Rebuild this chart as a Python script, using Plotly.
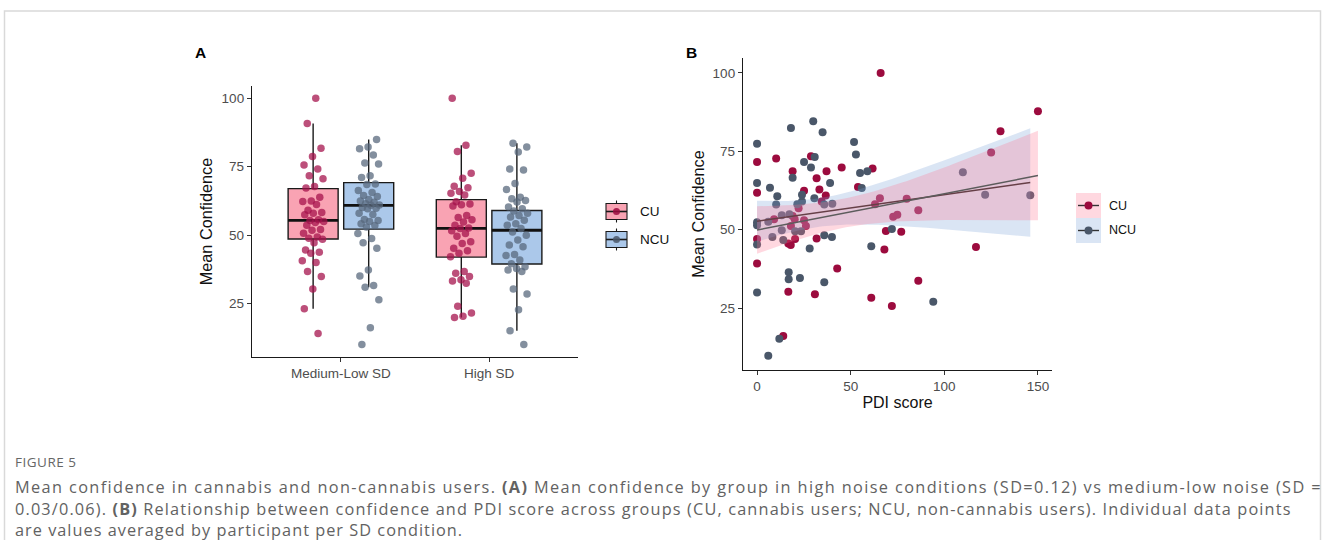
import numpy as np
import plotly.graph_objects as go

W, H = 1328, 540

# ---------------- Panel A data ----------------
categories = ["Medium-Low SD", "High SD"]
groups = ["CU", "NCU"]

cu_ml = [100, 90.8, 81.8, 78.7, 75.6, 74.2, 71.7, 70.6, 67.8, 67.2, 63.9, 62.5, 62.3, 61.2,
         59.1, 58.3, 58.0, 57.5, 55.6, 55.4, 55.0, 54.6, 53.6, 52.1, 51.8, 50.7, 49.3, 48.9,
         48.5, 47.2, 44.6, 43.8, 43.4, 40.7, 40.0, 36.7, 34.9, 30.3, 23.1, 14.1]
ncu_ml = [85.0, 82.2, 81.6, 79.3, 76.4, 76.0, 71.7, 71.1, 68.7, 68.5, 66.3, 65.6, 64.5, 64.1,
          63.0, 62.5, 62.0, 61.5, 61.0, 60.9, 60.1, 59.8, 59.7, 58.0, 57.6, 55.7, 55.4, 55.0,
          54.2, 53.5, 53.0, 50.6, 48.8, 47.2, 45.2, 37.3, 35.1, 31.6, 31.0, 26.4, 16.2, 10.1]
cu_hsd = [100, 82.9, 80.6, 72.6, 70.8, 67.9, 67.3, 66.0, 65.3, 64.7, 62.2, 61.4, 61.1, 60.7,
          57.2, 56.5, 55.6, 54.8, 53.6, 52.6, 52.4, 51.6, 50.6, 49.6, 47.6, 47.0, 45.2, 44.3,
          43.4, 42.1, 36.7, 36.1, 34.9, 33.7, 33.3, 32.4, 24.0, 21.6, 20.4, 19.9]
ncu_hsd = [83.6, 82.2, 80.4, 74.2, 73.8, 68.9, 66.7, 63.9, 63.3, 62.7, 62.1, 60.3, 59.7, 58.8,
           58.0, 57.2, 56.6, 55.5, 54.2, 53.6, 52.4, 51.2, 50.0, 48.2, 46.4, 45.8, 42.9, 42.6,
           40.9, 39.6, 38.5, 37.8, 37.3, 36.7, 30.3, 28.5, 22.8, 15.1, 10.1]

# box statistics: [Medium-Low, High]
cu_q1 = [48.6, 42.0]
cu_med = [55.4, 52.5]
cu_q3 = [67.0, 63.0]
cu_lo = [23.1, 19.9]
cu_hi = [90.8, 82.9]
ncu_q1 = [52.2, 39.5]
ncu_med = [60.9, 51.8]
ncu_q3 = [69.2, 59.0]
ncu_lo = [31.0, 15.1]
ncu_hi = [85.0, 83.6]

# ---------------- Panel B data ----------------
cu_pdi = [66, 150, 130, 125, 0, 10.2, 0, 19, 28.8, 31.8, 37.1, 33.3, 36.7, 34.5, 45.2, 53.9,
          61.7, 63, 65.6, 25.1, 0, 0, 9.1, 16.7, 18, 18.1, 19, 20.1, 20.3, 22.2, 25.1, 26.1,
          31.8, 42.8, 16.7, 30.9, 61, 14, 79.9, 86.1, 72.7, 74.9, 68.8, 77, 68, 116.9, 86.1, 72]
cu_conf = [100, 87.8, 81.4, 74.6, 71.6, 72.7, 61.8, 68.6, 73.4, 66.4, 68.6, 62.8, 60.9, 59.0,
           69.8, 63.6, 69.5, 58.1, 60.0, 62.4, 47.0, 39.2, 53.3, 45.6, 45.1, 51.2, 54.4, 53.3,
           47.0, 56.8, 53.0, 51.2, 47.2, 37.6, 30.2, 29.4, 28.3, 16.1, 59.9, 56.2, 54.1, 54.8,
           49.6, 49.3, 43.7, 44.5, 33.7, 25.7]
ncu_pdi = [0, 0, 6.9, 10.2, 10.8, 18.1, 19, 25.1, 30.8, 30, 35, 28.8, 39, 30.6, 35.9, 40.2,
           51.8, 52.8, 55, 55.9, 58.9, 24, 0, 0, 0, 0, 6, 8.2, 13.2, 13.2, 14, 17.3, 20.3, 21.5,
           24, 23.5, 28.1, 35.9, 40, 16.9, 16.9, 22.9, 35.9, 61, 11.9, 6, 109.9, 121.8, 145.9,
           72, 94.1]
ncu_conf = [77.4, 64.9, 63.4, 58.0, 60.7, 82.4, 66.6, 71.6, 73.2, 84.6, 81.1, 69.8, 64.9, 60.0,
            58.0, 58.3, 78.0, 74.0, 68.1, 63.3, 68.6, 61.1, 45.3, 51.4, 52.4, 30.0, 52.5, 47.7,
            54.6, 49.8, 46.7, 54.9, 49.5, 58.1, 59.0, 49.5, 44.0, 48.2, 47.7, 36.4, 34.2, 34.6,
            33.2, 44.7, 15.2, 9.8, 68.3, 61.1, 61.0, 50.2, 27.0]

# ---------------- styling ----------------
CU_PT = "rgba(165,18,76,0.74)"
NCU_PT = "rgba(88,104,124,0.74)"
CU_FILL = "#f9a3b3"
NCU_FILL = "#abc8ea"
CU_B = "#9c0b3e"
NCU_B = "#4a5769"
FONT = "Liberation Sans, Arial, sans-serif"
TICK = dict(family=FONT, size=13.5, color="#4d4d4d")


def px(x):
    return x / W


def py(y):
    return 1 - y / H


fig = go.Figure()

# ----- Panel A: boxes -----
dodge = 0.1875
bw = 0.3375
cat_pos = [1, 2]
for gname, q1, med, q3, lo, hi, fill, sign in [
    ("CU", cu_q1, cu_med, cu_q3, cu_lo, cu_hi, CU_FILL, -1),
    ("NCU", ncu_q1, ncu_med, ncu_q3, ncu_lo, ncu_hi, NCU_FILL, 1),
]:
    xs = [c + sign * dodge for c in cat_pos]
    fig.add_trace(go.Box(
        x=xs, q1=q1, median=med, q3=q3, lowerfence=lo, upperfence=hi,
        width=bw, fillcolor=fill, line=dict(color="#1a1a1a", width=1.4),
        whiskerwidth=0, boxpoints=False, showlegend=False, hoverinfo="skip",
        xaxis="x", yaxis="y"))
    for xc, m in zip(xs, med):
        fig.add_trace(go.Scatter(
            x=[xc - bw / 2, xc + bw / 2], y=[m, m], mode="lines",
            line=dict(color="#111111", width=2.8), showlegend=False,
            hoverinfo="skip", xaxis="x", yaxis="y"))


# ----- Panel A: jittered points (deterministic jitter) -----
def jitter(n, seed):
    g = 0.6180339887
    return [(((i + seed) * g) % 1.0 - 0.5) * 2 * 0.075 for i in range(n)]


for vals, xc, col, seed in [
    (cu_ml, 1 - dodge, CU_PT, 1), (ncu_ml, 1 + dodge, NCU_PT, 3),
    (cu_hsd, 2 - dodge, CU_PT, 5), (ncu_hsd, 2 + dodge, NCU_PT, 7),
]:
    jj = jitter(len(vals), seed)
    fig.add_trace(go.Scatter(
        x=[xc + j for j in jj], y=vals, mode="markers",
        marker=dict(color=col, size=7.5, line=dict(width=0)),
        showlegend=False, hoverinfo="skip", xaxis="x", yaxis="y"))

# ----- Panel B: points -----
fig.add_trace(go.Scatter(x=cu_pdi, y=cu_conf, mode="markers",
                         marker=dict(color=CU_B, size=8, line=dict(width=0)),
                         showlegend=False, xaxis="x2", yaxis="y2"))
fig.add_trace(go.Scatter(x=ncu_pdi, y=ncu_conf, mode="markers",
                         marker=dict(color=NCU_B, size=8, line=dict(width=0)),
                         showlegend=False, xaxis="x2", yaxis="y2"))


# ----- Panel B: linear fits with 95% CI computed from the data -----
def lm_band(xv, yv):
    x = np.asarray(xv, float)
    y = np.asarray(yv, float)
    n = len(x)
    b, a = np.polyfit(x, y, 1)
    res = y - (a + b * x)
    s = np.sqrt(np.sum(res ** 2) / (n - 2))
    xm = x.mean()
    sxx = np.sum((x - xm) ** 2)
    grid = np.linspace(x.min(), x.max(), 80)
    fit = a + b * grid
    se = s * np.sqrt(1.0 / n + (grid - xm) ** 2 / sxx)
    t = 2.01
    return grid, fit, fit - t * se, fit + t * se


for xv, yv, band, lcol in [
    (ncu_pdi, ncu_conf, "rgba(120,160,215,0.27)", "#2e2e2e"),
    (cu_pdi, cu_conf, "rgba(255,110,140,0.27)", "#5c5c5c"),
]:
    g, f, lo, hi = lm_band(xv, yv)
    fig.add_trace(go.Scatter(
        x=np.concatenate([g, g[::-1]]), y=np.concatenate([hi, lo[::-1]]),
        fill="toself", fillcolor=band, line=dict(width=0), mode="lines",
        showlegend=False, hoverinfo="skip", xaxis="x2", yaxis="y2"))
    fig.add_trace(go.Scatter(x=g, y=f, mode="lines", line=dict(color=lcol, width=1.5),
                             showlegend=False, hoverinfo="skip", xaxis="x2", yaxis="y2"))

axis_common = dict(showgrid=False, zeroline=False, showline=True, linecolor="#1a1a1a",
                   linewidth=1.3, ticks="outside", ticklen=4, tickcolor="#333333",
                   tickwidth=1, tickfont=TICK, mirror=False)

fig.update_layout(
    width=W, height=H, margin=dict(l=0, r=0, t=0, b=0),
    paper_bgcolor="white", plot_bgcolor="white", showlegend=False,
    xaxis=dict(domain=[px(252), px(578)], range=[0.4, 2.6], tickvals=cat_pos,
               ticktext=categories, anchor="y", **axis_common),
    yaxis=dict(domain=[py(357), py(86)], range=[5.5, 104.5], tickvals=[25, 50, 75, 100],
               anchor="x",
               title=dict(text="Mean Confidence", font=dict(family=FONT, size=16.3, color="#111"),
                          standoff=4),
               **axis_common),
    xaxis2=dict(domain=[px(743), px(1052)], range=[-7.5, 157.5], tickvals=[0, 50, 100, 150],
                anchor="y2",
                title=dict(text="PDI score", font=dict(family=FONT, size=16, color="#111"),
                           standoff=3),
                **axis_common),
    yaxis2=dict(domain=[py(370), py(58)], range=[5.25, 104.75], tickvals=[25, 50, 75, 100],
                anchor="x2",
                title=dict(text="Mean Confidence", font=dict(family=FONT, size=16.3, color="#111"),
                           standoff=3),
                **axis_common),
)

shapes = []
annots = []

# outer frame
shapes.append(dict(type="rect", xref="paper", yref="paper", x0=px(4.5), x1=px(1320.5),
                   y0=py(600), y1=py(11), line=dict(color="#d9d9d9", width=1.5),
                   fillcolor="rgba(0,0,0,0)", layer="below"))

# panel letters
annots.append(dict(text="<b>A</b>", x=px(200), y=py(53), xref="paper", yref="paper",
                   xanchor="center", yanchor="middle", showarrow=False,
                   font=dict(family=FONT, size=15.5, color="#000")))
annots.append(dict(text="<b>B</b>", x=px(691), y=py(52), xref="paper", yref="paper",
                   xanchor="center", yanchor="middle", showarrow=False,
                   font=dict(family=FONT, size=15.5, color="#000")))

# Legend A (boxplot keys)
for name, fill, dot, yc in [("CU", CU_FILL, CU_B, 211.5), ("NCU", NCU_FILL, NCU_B, 239.5)]:
    shapes.append(dict(type="line", xref="paper", yref="paper", x0=px(616.5), x1=px(616.5),
                       y0=py(yc - 11), y1=py(yc + 11), line=dict(color="#1a1a1a", width=1.1)))
    shapes.append(dict(type="rect", xref="paper", yref="paper", x0=px(606), x1=px(627),
                       y0=py(yc + 8), y1=py(yc - 8), fillcolor=fill,
                       line=dict(color="#1a1a1a", width=1.1)))
    shapes.append(dict(type="line", xref="paper", yref="paper", x0=px(606), x1=px(627),
                       y0=py(yc), y1=py(yc), line=dict(color="#1a1a1a", width=1.6)))
    shapes.append(dict(type="circle", xref="paper", yref="paper", x0=px(613), x1=px(620),
                       y0=py(yc + 3.5), y1=py(yc - 3.5), fillcolor=dot, line=dict(width=0),
                       opacity=0.85))
    annots.append(dict(text=name, x=px(638), y=py(yc), xref="paper", yref="paper",
                       xanchor="left", yanchor="middle", showarrow=False,
                       font=dict(family=FONT, size=13.5, color="#111")))

# Legend B (smooth keys)
for name, bg, dot, yc in [("CU", "rgba(255,110,140,0.27)", CU_B, 205.5),
                          ("NCU", "rgba(120,160,215,0.27)", NCU_B, 230.5)]:
    shapes.append(dict(type="rect", xref="paper", yref="paper", x0=px(1076), x1=px(1101),
                       y0=py(yc + 12.5), y1=py(yc - 12.5), fillcolor=bg, line=dict(width=0)))
    shapes.append(dict(type="line", xref="paper", yref="paper", x0=px(1078), x1=px(1099),
                       y0=py(yc), y1=py(yc), line=dict(color="#333333", width=1.4)))
    shapes.append(dict(type="circle", xref="paper", yref="paper", x0=px(1084.5), x1=px(1092.5),
                       y0=py(yc + 4), y1=py(yc - 4), fillcolor=dot, line=dict(width=0)))
    annots.append(dict(text=name, x=px(1107), y=py(yc), xref="paper", yref="paper",
                       xanchor="left", yanchor="middle", showarrow=False,
                       font=dict(family=FONT, size=12.5, color="#111")))

# Caption
CAP = "Open Sans, Lato, sans-serif"
annots.append(dict(text='<span style="letter-spacing:0.5px">FIGURE 5</span>', x=px(13), y=py(462),
                   xref="paper", yref="paper",
                   xanchor="left", yanchor="middle", showarrow=False,
                   font=dict(family=CAP, size=13.5, color="#666666")))
cap_lines = [
    "Mean confidence in cannabis and non-cannabis users. <b>(A)</b> Mean confidence by group in high noise conditions (SD=0.12) vs medium-low noise (SD =",
    "0.03/0.06). <b>(B)</b> Relationship between confidence and PDI score across groups (CU, cannabis users; NCU, non-cannabis users). Individual data points",
    "are values averaged by participant per SD condition.",
]
cap_spacing = [1.39, 1.15, 1.02]
for i, line in enumerate(cap_lines):
    annots.append(dict(text='<span style="letter-spacing:%.2fpx">' % cap_spacing[i] + line + '</span>',
                       x=px(13), y=py(487 + 21.5 * i), xref="paper", yref="paper",
                       xanchor="left", yanchor="middle", showarrow=False,
                       font=dict(family=CAP, size=16.3, color="#626262")))

fig.update_layout(shapes=shapes, annotations=annots)
fig.write_html("out.html")
